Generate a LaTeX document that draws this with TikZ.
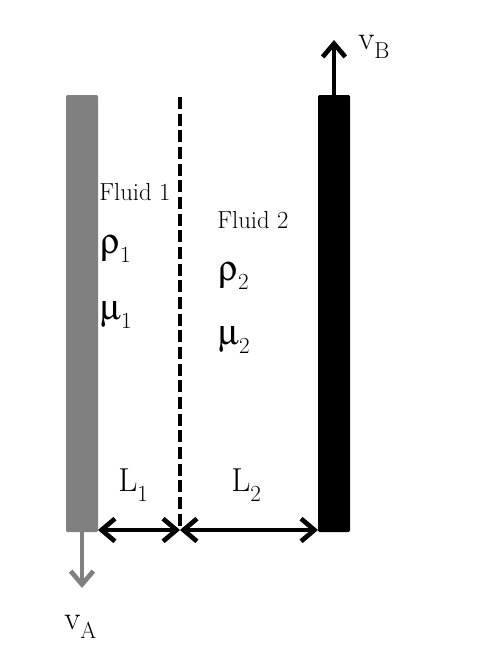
\documentclass[tikz,border=0pt]{standalone}
\usepackage{amsmath}
\usepackage[Symbol]{upgreek}
\usepackage{xcolor}
\usetikzlibrary{arrows.meta}

\definecolor{wallgray}{RGB}{128,128,128}
\newcommand{\dropsub}[1]{_{\lower3.5pt\hbox{$\scriptstyle\mathrm{#1}$}}}

\tikzset{
  wall/.style={rectangle, rounded corners=1pt, inner sep=0pt, minimum width=24pt, minimum height=327.75pt},
  bigarrow/.style={line width=3.5pt, -{Straight Barb[length=10pt,width=17pt]}},
  dimarrow/.style={line width=3.5pt, {Straight Barb[length=10pt,width=17pt]}-{Straight Barb[length=10pt,width=17pt]}},
  smalltext/.style={anchor=west, inner sep=0.75pt, font=\fontsize{18.5}{20}\selectfont},
  bigtext/.style={anchor=west, inner sep=0.75pt, font=\fontsize{27}{29}\selectfont}
}

\begin{document}
\begin{tikzpicture}[x=0.75pt,y=0.75pt,yscale=-1,xscale=1]
\useasboundingbox (0,0) rectangle (500,658);

%Shape: Rectangle [wall A]
\node [wall, fill=wallgray] (wallA) at (82,313.5) {};
%Shape: Rectangle [wall B]
\node [wall, fill=black] (wallB) at (334,313.5) {};

%Interface
\coordinate (ifTop) at (180,97);
\coordinate (ifBot) at (180,530);
\draw [line width=3pt, dash pattern=on 9pt off 3.5pt] (ifTop) -- (ifBot);

%Velocity arrows
\coordinate (tipB) at (334,40);
\coordinate (tipA) at (82,588);
\draw [bigarrow] (wallB.north) -- (tipB);
\draw [bigarrow, wallgray] (wallA.south) -- (tipA);

%Gap arrows
\coordinate (gapA) at (98,530);
\coordinate (gapB) at (318,530);
\draw [dimarrow] (gapA) -- (ifBot);
\draw [dimarrow] (ifBot) -- (gapB);

% Text Node
\node [smalltext] (fluidA) at (98,192) {Fluid 1};
% Text Node
\node [bigtext] (rhoA) at (99,249) {$\uprho\dropsub{1}$};
% Text Node
\node [bigtext] (muA) at (99,315) {$\upmu\dropsub{1}$};
% Text Node
\node [smalltext] (fluidB) at (216,220) {Fluid 2};
% Text Node
\node [bigtext] (rhoB) at (217,276) {$\uprho\dropsub{2}$};
% Text Node
\node [bigtext] (muB) at (217,340) {$\upmu\dropsub{2}$};
% Text Node
\node [bigtext] (lenA) at (117,485) {$\mathrm{L}\dropsub{1}$};
% Text Node
\node [bigtext] (lenB) at (230,485) {$\mathrm{L}\dropsub{2}$};
% Text Node
\node [bigtext] (velB) at (357,47) {$\mathrm{v}\dropsub{B}$};
% Text Node
\node [bigtext] (velA) at (63,627) {$\mathrm{v}\dropsub{A}$};

\end{tikzpicture}
\end{document}
